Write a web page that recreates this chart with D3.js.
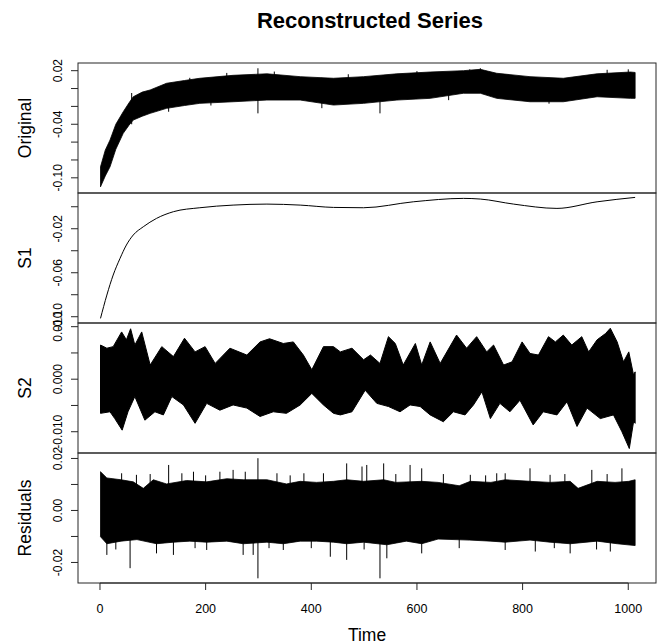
<!DOCTYPE html>
<meta charset="utf-8">
<style>
  body { margin: 0; background: #fff; }
  text { font-family: "Liberation Sans", Arial, sans-serif; fill: #000; }
  .box { fill: none; stroke: #262626; stroke-width: 1; }
  .tick line, .axisline { stroke: #262626; stroke-width: 1; }
</style>
<svg width="664" height="644"></svg>
<script src="https://d3js.org/d3.v7.min.js"></script>
<script>

// x axis
var xTicks = [0, 200, 400, 600, 800, 1000];
var xLimits = [-41.6, 1052.5];

var panelNames = ["Original", "S1", "S2", "Residuals"];
var yLimits = [[-0.117, 0.0286], [-0.1057, 0.0125], [-0.01405, 0.0107], [-0.0279, 0.0221]];
var yTicks = [
  [0.02, 0, -0.02, -0.04, -0.06, -0.08, -0.10],
  [0, -0.02, -0.04, -0.06, -0.08, -0.10],
  [0.010, 0.005, 0, -0.005, -0.010],
  [0.02, 0.01, 0, -0.01, -0.02]
];
var yLabelTicks = [[0.02, -0.04, -0.10], [-0.02, -0.06, -0.10], [0.010, 0, -0.010], [0.02, 0, -0.02]];
var yLabelText = [["0.02", "-0.04", "-0.10"], ["-0.02", "-0.06", "-0.10"], ["0.010", "0.000", "-0.010"], ["0.02", "0.00", "-0.02"]];

// Original: upper / lower envelope of the dense series
var origTime  = [1, 10, 19, 30, 44, 55, 63, 80, 95, 126, 160, 189, 252, 316, 379, 442, 499, 562, 625, 688, 720, 751, 814, 877, 941, 1004, 1013];
var origUpper = [-0.0877, -0.069, -0.0577, -0.040, -0.026, -0.016, -0.0092, -0.004, -0.0016, 0.0059, 0.009, 0.0115, 0.0148, 0.0165, 0.0133, 0.0115, 0.0133, 0.0165, 0.0185, 0.0200, 0.0215, 0.0171, 0.0133, 0.0115, 0.0165, 0.0185, 0.0180];
var origLower = [-0.1101, -0.098, -0.0877, -0.068, -0.0502, -0.041, -0.0353, -0.031, -0.0278, -0.0222, -0.019, -0.0166, -0.0148, -0.0129, -0.0129, -0.0185, -0.0166, -0.0129, -0.011, -0.0053, -0.0053, -0.011, -0.0148, -0.0148, -0.0092, -0.011, -0.011];
var origSpikeTime = [299, 530, 170, 240, 330, 470, 600, 700, 720, 960, 1000, 60, 130, 210, 420, 660, 850];
var origSpikeHi   = [0.0227, 0.0115, 0.0120, 0.0175, 0.0190, 0.0160, 0.0195, 0.0215, 0.0227, 0.0210, 0.0215, -0.005, 0.004, 0.010, 0.012, 0.018, 0.012];
var origSpikeLo   = [-0.0278, -0.0278, -0.012, -0.010, -0.010, -0.012, -0.008, -0.002, -0.002, -0.006, -0.008, -0.040, -0.026, -0.019, -0.022, -0.013, -0.017];

// S1: smooth trend
var s1Time  = [1, 13, 25, 38, 50, 63, 82, 107, 139, 189, 252, 316, 379, 442, 499, 593, 688, 720, 783, 865, 941, 1013];
var s1Value = [-0.1015, -0.0803, -0.0621, -0.0469, -0.0348, -0.0257, -0.0182, -0.0106, -0.0045, -0.0009, 0.0015, 0.0024, 0.0015, -0.0006, -0.0009, 0.0045, 0.0076, 0.007, 0.0024, -0.0015, 0.0045, 0.0085];

// S2: upper and lower envelope
var s2UpTime = [1, 13, 25, 41, 50, 58, 66, 79, 95, 117, 139, 160, 180, 199, 218, 246, 278, 303, 321, 347, 366, 385, 401, 423, 442, 455, 477, 499, 512, 530, 546, 559, 574, 597, 609, 625, 644, 675, 694, 713, 732, 745, 764, 780, 799, 814, 830, 849, 862, 877, 893, 912, 925, 941, 957, 966, 979, 991, 1001, 1010, 1013];
var s2Upper  = [0.0065, 0.0059, 0.0062, 0.0090, 0.0075, 0.0096, 0.0065, 0.0090, 0.0027, 0.0062, 0.0043, 0.0078, 0.0052, 0.0062, 0.0030, 0.0059, 0.0046, 0.0071, 0.0077, 0.0068, 0.0071, 0.0046, 0.0018, 0.0062, 0.0062, 0.0052, 0.0059, 0.0037, 0.0046, 0.0030, 0.0081, 0.0068, 0.0027, 0.0068, 0.0027, 0.0071, 0.0030, 0.0084, 0.0059, 0.0081, 0.0052, 0.0065, 0.0027, 0.0033, 0.0071, 0.0049, 0.0046, 0.0081, 0.0071, 0.0084, 0.0065, 0.0081, 0.0052, 0.0075, 0.0087, 0.0097, 0.0071, 0.0033, 0.0052, 0.0008, 0.0014];
var s2LoTime = [1, 19, 28, 42, 53, 66, 85, 104, 120, 136, 158, 180, 202, 227, 252, 278, 303, 328, 353, 379, 401, 423, 442, 455, 477, 502, 524, 546, 568, 587, 606, 625, 650, 669, 691, 707, 723, 739, 757, 776, 795, 820, 839, 865, 884, 903, 922, 947, 972, 988, 1002, 1010, 1013];
var s2Lower  = [-0.0065, -0.0062, -0.0075, -0.0097, -0.0062, -0.0033, -0.0078, -0.0062, -0.0068, -0.0033, -0.0049, -0.0084, -0.0046, -0.0059, -0.0049, -0.0055, -0.0071, -0.0062, -0.0065, -0.0049, -0.0027, -0.0049, -0.0065, -0.0068, -0.0062, -0.0021, -0.0046, -0.0052, -0.0062, -0.0049, -0.0052, -0.0068, -0.0081, -0.0062, -0.0068, -0.0049, -0.0024, -0.0075, -0.0046, -0.0062, -0.0040, -0.0087, -0.0062, -0.0068, -0.0043, -0.0090, -0.0055, -0.0075, -0.0068, -0.0100, -0.0132, -0.0081, -0.0084];

// Residuals: envelope plus the lines that stick out of it
var resUpTime = [1, 13, 40, 63, 82, 101, 126, 164, 202, 240, 271, 316, 353, 379, 410, 442, 467, 499, 537, 560, 609, 640, 680, 701, 740, 767, 814, 852, 890, 905, 941, 975, 1001, 1013];
var resUpper  = [0.0149, 0.0125, 0.0118, 0.0110, 0.0085, 0.0118, 0.0102, 0.0115, 0.0110, 0.0122, 0.0118, 0.0118, 0.0102, 0.0112, 0.0108, 0.0112, 0.0118, 0.0112, 0.0118, 0.0108, 0.0112, 0.0108, 0.0095, 0.0112, 0.0108, 0.0118, 0.0112, 0.0108, 0.0112, 0.0085, 0.0112, 0.0108, 0.0112, 0.0118];
var resLoTime = [1, 13, 40, 70, 107, 139, 170, 202, 240, 271, 316, 347, 379, 410, 442, 467, 499, 543, 580, 609, 640, 700, 740, 767, 814, 852, 890, 941, 979, 1013];
var resLower  = [-0.0101, -0.0128, -0.0118, -0.0112, -0.0128, -0.0122, -0.0118, -0.0122, -0.0118, -0.0128, -0.0122, -0.0128, -0.0118, -0.0118, -0.0122, -0.0128, -0.0122, -0.0132, -0.0118, -0.0128, -0.0110, -0.0114, -0.0118, -0.0122, -0.0114, -0.0122, -0.0128, -0.0118, -0.0128, -0.0135];
var resSpikeTime = [41, 69, 95, 130, 155, 177, 200, 227, 252, 275, 299, 335, 360, 386, 423, 467, 496, 505, 537, 560, 587, 609, 650, 701, 730, 751, 767, 814, 852, 880, 931, 960, 988,
                    13, 30, 57, 107, 139, 180, 202, 271, 290, 299, 320, 347, 400, 436, 467, 500, 530, 543, 609, 680, 767, 824, 860, 890, 940, 966];
var resSpikeValue = [0.0143, 0.0137, 0.0140, 0.0175, 0.0143, 0.0149, 0.0135, 0.0149, 0.0156, 0.0149, 0.0201, 0.0143, 0.0135, 0.0143, 0.0143, 0.0181, 0.0169, 0.0175, 0.0181, 0.0140, 0.0175, 0.0162, 0.0140, 0.0137, 0.0135, 0.0143, 0.0143, 0.0162, 0.0137, 0.0140, 0.0156, 0.0140, 0.0162,
                    -0.0171, -0.0150, -0.0222, -0.0165, -0.0171, -0.0145, -0.0152, -0.0171, -0.0171, -0.0261, -0.0145, -0.0152, -0.0145, -0.0178, -0.0190, -0.0150, -0.0261, -0.0184, -0.0165, -0.0145, -0.0152, -0.0158, -0.0145, -0.0165, -0.0150, -0.0158];

var svg = d3.select("svg"),
    margin = {top: 63, right: 8, bottom: 61, left: 78},
    width = +svg.attr("width") - margin.left - margin.right,
    panelH = 130;

var x = d3.scaleLinear().domain(xLimits).range([margin.left, margin.left + width]);

function band(upT, up, loT, lo, y) {
  var pts = upT.map(function(t, i) { return [t, up[i]]; });
  for (var i = loT.length - 1; i >= 0; i--) pts.push([loT[i], lo[i]]);
  return d3.line()
      .x(function(d) { return x(d[0]); })
      .y(function(d) { return y(d[1]); })(pts) + "Z";
}

panelNames.forEach(function(name, p) {
  var top = margin.top + p * panelH;
  var y = d3.scaleLinear().domain(yLimits[p]).range([top + panelH, top]);
  var g = svg.append("g");

  if (p === 0) {
    g.selectAll(".spike").data(origSpikeTime).enter().append("line")
        .attr("x1", function(d) { return x(d); }).attr("x2", function(d) { return x(d); })
        .attr("y1", function(d, i) { return y(origSpikeHi[i]); })
        .attr("y2", function(d, i) { return y(origSpikeLo[i]); })
        .attr("stroke", "#000").attr("stroke-width", 1);
    g.append("path")
        .attr("d", band(origTime, origUpper, origTime, origLower, y))
        .attr("fill", "#000").attr("stroke", "#000").attr("stroke-width", 0.8);
  } else if (p === 1) {
    g.append("path")
        .datum(s1Time)
        .attr("fill", "none").attr("stroke", "#000").attr("stroke-width", 1)
        .attr("d", d3.line()
          .x(function(d) { return x(d); })
          .y(function(d, i) { return y(s1Value[i]); })
          .curve(d3.curveMonotoneX));
  } else if (p === 2) {
    g.append("path")
        .attr("d", band(s2UpTime, s2Upper, s2LoTime, s2Lower, y))
        .attr("fill", "#000").attr("stroke", "#000").attr("stroke-width", 1);
  } else {
    g.selectAll(".spike").data(resSpikeTime).enter().append("line")
        .attr("x1", function(d) { return x(d); }).attr("x2", function(d) { return x(d); })
        .attr("y1", y(0))
        .attr("y2", function(d, i) { return y(resSpikeValue[i]); })
        .attr("stroke", "#000").attr("stroke-width", 1);
    g.append("path")
        .attr("d", band(resUpTime, resUpper, resLoTime, resLower, y))
        .attr("fill", "#000").attr("stroke", "#000").attr("stroke-width", 0.8);
  }

  // box
  g.append("rect").attr("class", "box")
      .attr("x", margin.left).attr("y", top)
      .attr("width", width).attr("height", panelH);

  // y axis, R style: ticks every step, labels only where they fit
  var ax = g.append("g");
  ax.selectAll(".tick").data(yTicks[p]).enter().append("g").attr("class", "tick")
    .append("line")
      .attr("x1", margin.left - 7).attr("x2", margin.left)
      .attr("y1", function(d) { return y(d); }).attr("y2", function(d) { return y(d); });
  ax.selectAll(".lab").data(yLabelTicks[p]).enter().append("text")
      .attr("transform", function(d) { return "translate(" + (margin.left - 16) + "," + y(d) + ") rotate(-90)"; })
      .attr("text-anchor", "middle")
      .style("font-size", "12px")
      .text(function(d, i) { return yLabelText[p][i]; });

  g.append("text")
      .attr("transform", "translate(31," + (top + panelH / 2) + ") rotate(-90)")
      .attr("text-anchor", "middle")
      .style("font-size", "17.5px")
      .text(name);
});

// x axis under the last panel
var bottom = margin.top + 4 * panelH;
var xa = svg.append("g");
xa.append("line").attr("class", "axisline")
    .attr("x1", x(xTicks[0])).attr("x2", x(xTicks[xTicks.length - 1]))
    .attr("y1", bottom).attr("y2", bottom);
xa.selectAll(".tick").data(xTicks).enter().append("g").attr("class", "tick")
  .append("line")
    .attr("x1", function(d) { return x(d); }).attr("x2", function(d) { return x(d); })
    .attr("y1", bottom).attr("y2", bottom + 7);
xa.selectAll(".lab").data(xTicks).enter().append("text")
    .attr("x", function(d) { return x(d); })
    .attr("y", bottom + 30)
    .attr("text-anchor", "middle")
    .style("font-size", "12.5px")
    .text(function(d) { return d; });

svg.append("text")
    .attr("x", margin.left + width / 2).attr("y", 641)
    .attr("text-anchor", "middle")
    .style("font-size", "17.5px")
    .text("Time");

svg.append("text")
    .attr("x", margin.left + width / 2 + 3).attr("y", 28)
    .attr("text-anchor", "middle")
    .style("font-size", "22px").style("font-weight", "bold")
    .text("Reconstructed Series");

</script>
